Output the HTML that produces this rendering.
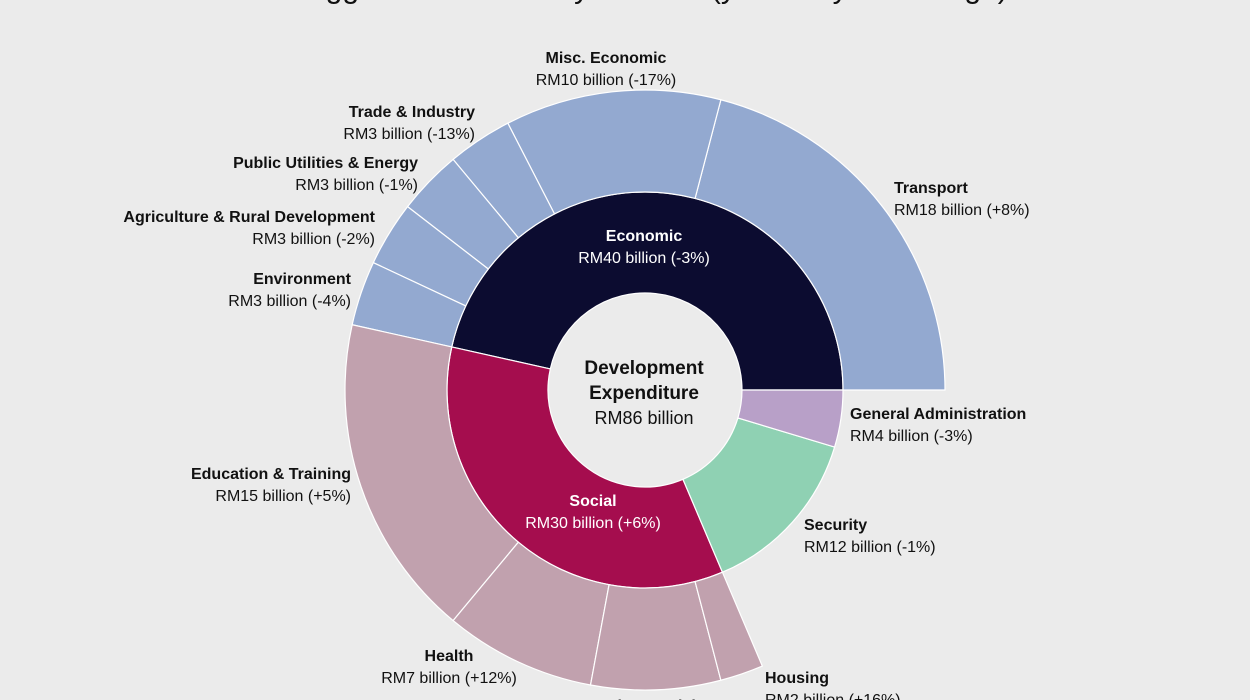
<!DOCTYPE html>
<html><head><meta charset="utf-8"><style>
body{margin:0;background:#ebebeb;}
svg{display:block;font-family:"Liberation Sans",sans-serif;}
.b{font-weight:bold;font-size:16px;fill:#111}
.r{font-size:16px;fill:#111}
</style></head><body>
<svg id="s" width="1250" height="700" viewBox="0 0 1250 700">
<rect width="1250" height="700" fill="#ebebeb"/>
<text x="625" y="-2" text-anchor="middle" font-size="30" fill="#111">The biggest allocations by function (year-on-year change)</text>
<g id="g"></g>
<g class="labels">
<text class="b" x="606" y="63" text-anchor="middle">Misc. Economic</text>
<text class="r" x="606" y="85" text-anchor="middle">RM10 billion (-17%)</text>
<text class="b" x="475" y="117" text-anchor="end">Trade &amp; Industry</text>
<text class="r" x="475" y="139" text-anchor="end">RM3 billion (-13%)</text>
<text class="b" x="418" y="168" text-anchor="end">Public Utilities &amp; Energy</text>
<text class="r" x="418" y="190" text-anchor="end">RM3 billion (-1%)</text>
<text class="b" x="375" y="222" text-anchor="end">Agriculture &amp; Rural Development</text>
<text class="r" x="375" y="244" text-anchor="end">RM3 billion (-2%)</text>
<text class="b" x="351" y="284" text-anchor="end">Environment</text>
<text class="r" x="351" y="306" text-anchor="end">RM3 billion (-4%)</text>
<text class="b" x="894" y="193">Transport</text>
<text class="r" x="894" y="215">RM18 billion (+8%)</text>
<text class="b" x="850" y="419">General Administration</text>
<text class="r" x="850" y="441">RM4 billion (-3%)</text>
<text class="b" x="804" y="530">Security</text>
<text class="r" x="804" y="552">RM12 billion (-1%)</text>
<text class="b" x="351" y="479" text-anchor="end">Education &amp; Training</text>
<text class="r" x="351" y="501" text-anchor="end">RM15 billion (+5%)</text>
<text class="b" x="449" y="661" text-anchor="middle">Health</text>
<text class="r" x="449" y="683" text-anchor="middle">RM7 billion (+12%)</text>
<text class="b" x="650" y="711" text-anchor="middle">Misc. Social</text>
<text class="b" x="765" y="683">Housing</text>
<text class="r" x="765" y="705">RM2 billion (+16%)</text>
<text x="644" y="374" text-anchor="middle" font-size="19" font-weight="bold" fill="#111">Development</text>
<text x="644" y="399" text-anchor="middle" font-size="19" font-weight="bold" fill="#111">Expenditure</text>
<text x="644" y="424" text-anchor="middle" font-size="18" fill="#111">RM86 billion</text>
<text class="b" x="644" y="241" text-anchor="middle" style="fill:#fff">Economic</text>
<text class="r" x="644" y="263" text-anchor="middle" style="fill:#fff">RM40 billion (-3%)</text>
<text class="b" x="593" y="506" text-anchor="middle" style="fill:#fff">Social</text>
<text class="r" x="593" y="528" text-anchor="middle" style="fill:#fff">RM30 billion (+6%)</text>
</g>
</svg>
<script>
var cx=645,cy=390,g=document.getElementById('g');
function pt(r,a){a=a*Math.PI/180;return (cx+r*Math.cos(a)).toFixed(2)+','+(cy-r*Math.sin(a)).toFixed(2);}
function arc(r0,r1,a0,a1,fill){
 var large=(a1-a0)>180?1:0;
 var d='M'+pt(r1,a0)+' A'+r1+','+r1+' 0 '+large+' 0 '+pt(r1,a1)+' L'+pt(r0,a1)+' A'+r0+','+r0+' 0 '+large+' 1 '+pt(r0,a0)+'Z';
 var p=document.createElementNS('http://www.w3.org/2000/svg','path');
 p.setAttribute('d',d);p.setAttribute('fill',fill);p.setAttribute('stroke','#fff');p.setAttribute('stroke-width','1.2');
 g.appendChild(p);
}
var k=360/86;
arc(97,198,0,40*k,'#0c0c30');
arc(97,198,40*k,70*k,'#a50d4e');
arc(97,198,70*k,82*k,'#8fd1b3');
arc(97,198,82*k,86*k,'#b8a0c8');
var a=0,eco=[18,10,3,3,3,3];
eco.forEach(function(v){arc(198,300,a*k,(a+v)*k,'#93a9d0');a+=v;});
var soc=[15,7,6,2];
soc.forEach(function(v){arc(198,300,a*k,(a+v)*k,'#c1a1ae');a+=v;});
</script>
</body></html>
